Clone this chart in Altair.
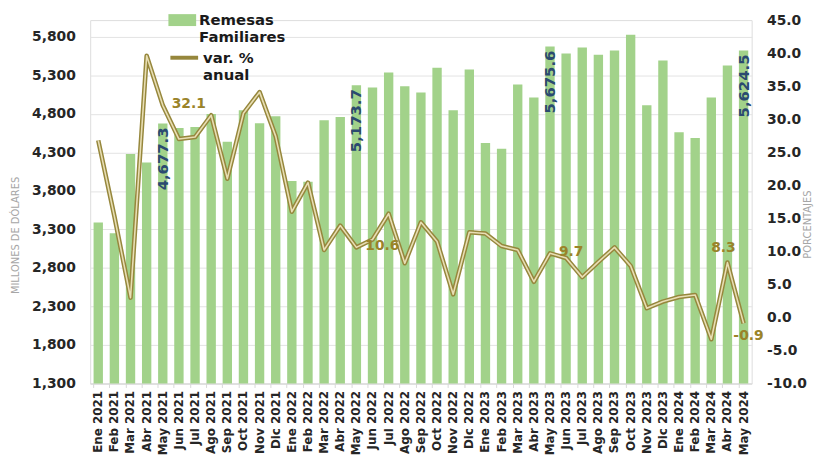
import altair as alt
import pandas as pd

meses = ["Ene 2021", "Feb 2021", "Mar 2021", "Abr 2021", "May 2021", "Jun 2021", "Jul 2021",
         "Ago 2021", "Sep 2021", "Oct 2021", "Nov 2021", "Dic 2021",
         "Ene 2022", "Feb 2022", "Mar 2022", "Abr 2022", "May 2022", "Jun 2022", "Jul 2022",
         "Ago 2022", "Sep 2022", "Oct 2022", "Nov 2022", "Dic 2022",
         "Ene 2023", "Feb 2023", "Mar 2023", "Abr 2023", "May 2023", "Jun 2023", "Jul 2023",
         "Ago 2023", "Sep 2023", "Oct 2023", "Nov 2023", "Dic 2023",
         "Ene 2024", "Feb 2024", "Mar 2024", "Abr 2024", "May 2024"]

remesas = [3390, 3250, 4280, 4170, 4677.3, 4620, 4630, 4800, 4440, 4850, 4680, 4770,
           3930, 3920, 4720, 4760, 5173.7, 5145, 5340, 5160, 5080, 5400, 4850, 5380,
           4425, 4350, 5185, 5015, 5675.6, 5585, 5665, 5570, 5625, 5830, 4915, 5495,
           4565, 4490, 5015, 5430, 5624.5]

var_anual = [26.8, 15.3, 3.0, 39.6, 32.1, 27.0, 27.3, 30.6, 21.0, 30.9, 34.1, 27.4,
             16.0, 20.4, 10.2, 13.9, 10.6, 11.8, 15.7, 8.2, 14.4, 11.5, 3.5, 12.9,
             12.7, 10.8, 10.2, 5.4, 9.7, 9.0, 6.1, 8.4, 10.6, 7.8, 1.4, 2.4,
             3.1, 3.4, -3.3, 8.3, -0.9]

ticks_izq = [1300, 1800, 2300, 2800, 3300, 3800, 4300, 4800, 5300, 5800]
ticks_der = [-10, -5, 0, 5, 10, 15, 20, 25, 30, 35, 40, 45]

meses_barra_etiqueta = ["May 2021", "May 2022", "May 2023", "May 2024"]
meses_var_derecha = ["May 2021", "May 2022", "May 2023"]
meses_var_arriba = ["Abr 2024"]
meses_var_abajo = ["May 2024"]

df = pd.DataFrame({"mes": meses, "remesas": remesas, "var": var_anual})
df["s1"] = "Remesas Familiares"
df["s2"] = "var. % anual"

FONT = "DejaVu Sans"
GREEN = "#A2D28A"
OLIVE = "#96873C"
INNER = "#E8DEB4"
NAVY = "#2B4A70"
GOLD = "#9A8329"

x_axis = alt.Axis(labelAngle=-90, labelFont=FONT, labelFontSize=12, labelFontWeight="bold",
                  labelColor="#262626", labelPadding=3, ticks=True, tickSize=4,
                  tickColor="#d9d9d9", domain=True, domainColor="#d9d9d9",
                  bandPosition=0, grid=False)
x_scale = alt.Scale(paddingInner=0.42, paddingOuter=0.21)

def X():
    return alt.X("mes:N", sort=meses, title=None, scale=x_scale, axis=x_axis)

yL_scale = alt.Scale(domain=[1300, 6020], nice=False, zero=False)
yR_scale = alt.Scale(domain=[-10, 45], nice=False, zero=False)

yL_axis = alt.Axis(values=ticks_izq, format=",.0f", title="MILLONES DE DÓLARES",
                   titleX=-75, titleY=217, titleAngle=270, titleAlign="center",
                   titleBaseline="middle", titleFont=FONT, titleFontSize=10,
                   titleFontWeight="normal", titleColor="#a6a6a6",
                   labelFont=FONT, labelFontSize=14, labelFontWeight="bold",
                   labelColor="#262626", labelPadding=15, ticks=False, domain=False,
                   grid=True, gridColor="#e3e3e3", gridWidth=1)
yR_axis = alt.Axis(orient="right", values=ticks_der, format=".1f", title="PORCENTAJES",
                   labelExpr="replace(datum.label, '\u2212', '-')",
                   titleX=56, titleY=206, titleAngle=270, titleAlign="center",
                   titleBaseline="middle", titleFont=FONT, titleFontSize=10,
                   titleFontWeight="normal", titleColor="#a6a6a6",
                   labelFont=FONT, labelFontSize=14, labelFontWeight="bold",
                   labelColor="#262626", labelPadding=15, ticks=False, domain=False,
                   grid=False)

def YL():
    return alt.Y("remesas:Q", scale=yL_scale, axis=yL_axis, title="MILLONES DE DÓLARES")

def YR():
    return alt.Y("var:Q", scale=yR_scale, axis=yR_axis, title="PORCENTAJES")

base = alt.Chart(df)

bars = base.mark_bar(opacity=1, clip=True).encode(
    x=X(),
    y=YL(),
    fill=alt.Fill("s1:N", scale=alt.Scale(domain=["Remesas Familiares"], range=[GREEN]),
                  legend=alt.Legend(orient="none", legendX=79, legendY=-14, title=None,
                                    symbolType="M-1,-0.43H1V0.43H-1Z", symbolSize=784,
                                    symbolStrokeWidth=0, symbolOpacity=1,
                                    labelExpr="['Remesas', 'Familiares']",
                                    labelFont=FONT, labelFontSize=15, labelFontWeight="bold",
                                    labelColor="#1a1a1a", labelOffset=3, labelLimit=300)),
)

bar_text = base.transform_filter(
    alt.FieldOneOfPredicate(field="mes", oneOf=meses_barra_etiqueta)
).mark_text(angle=270, align="right", baseline="middle", dx=-4, font=FONT, fontSize=15,
            fontWeight="bold", color=NAVY).encode(
    x=X(),
    y=YL(),
    text=alt.Text("remesas:Q", format=",.1f"),
)

line_outer = base.mark_line(strokeWidth=4.6, strokeJoin="round").encode(
    x=X(),
    y=YR(),
    stroke=alt.Stroke("s2:N", scale=alt.Scale(domain=["var. % anual"], range=[OLIVE]),
                      legend=alt.Legend(orient="none", legendX=79, legendY=22, title=None,
                                        symbolType="M-1,0L1,0", symbolSize=784,
                                        symbolStrokeWidth=4, symbolFillColor="transparent",
                                        labelExpr="['var. %', 'anual']",
                                        labelFont=FONT, labelFontSize=15, labelFontWeight="bold",
                                        labelColor="#1a1a1a", labelOffset=3, labelLimit=300)),
)

line_inner = base.mark_line(strokeWidth=1.6, color=INNER, strokeJoin="round").encode(
    x=X(),
    y=YR(),
)

def var_text(meses_sel, **kw):
    return base.transform_filter(
        alt.FieldOneOfPredicate(field="mes", oneOf=meses_sel)
    ).transform_calculate(
        lbl="replace(format(datum.var, '.1f'), '\u2212', '-')"
    ).mark_text(font=FONT, fontSize=14, fontWeight="bold", color=GOLD, **kw).encode(
        x=X(),
        y=YR(),
        text="lbl:N",
    )

t_der = var_text(meses_var_derecha, align="left", baseline="middle", dx=9, dy=-1)
t_arr = var_text(meses_var_arriba, align="center", baseline="middle", dx=-4, dy=-15)
t_aba = var_text(meses_var_abajo, align="center", baseline="middle", dx=5, dy=13)

left = alt.layer(bars, bar_text)
right = alt.layer(line_outer, line_inner, t_der, t_arr, t_aba)

chart = alt.layer(left, right).resolve_scale(y="independent", fill="independent",
                                              stroke="independent").properties(
    width=668, height=367,
    autosize=alt.AutoSizeParams(type="none"),
    padding={"left": 83, "top": 10, "right": 66, "bottom": 72},
).configure_view(strokeWidth=0, stroke="transparent").configure(background="white")

chart.save("out.html", embed_options={"renderer": "svg", "actions": False})
